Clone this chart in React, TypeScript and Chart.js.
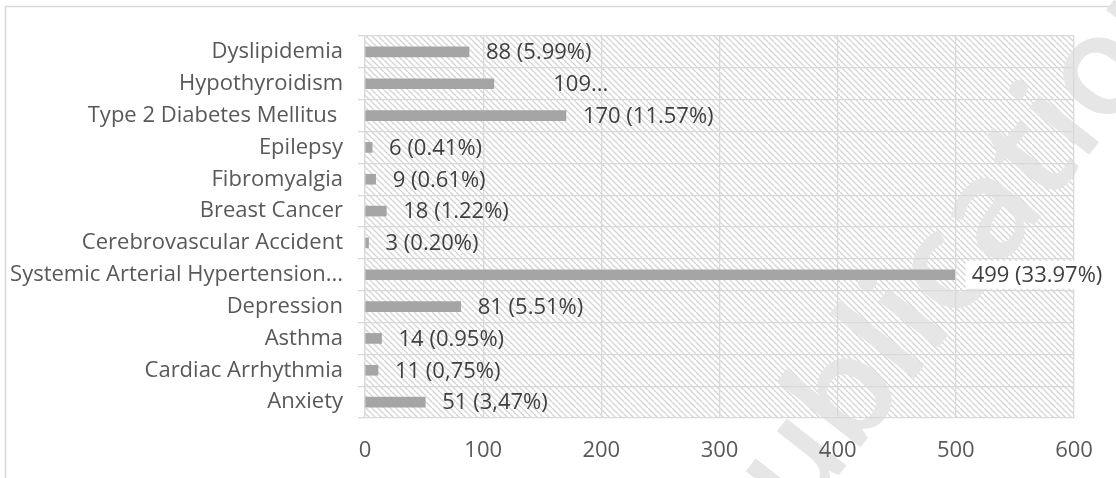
import React, { useEffect, useRef } from 'react';
import { Chart, registerables } from 'chart.js';

Chart.register(...registerables);

const categories = [
  'Dyslipidemia',
  'Hypothyroidism',
  'Type 2 Diabetes Mellitus ',
  'Epilepsy',
  'Fibromyalgia',
  'Breast Cancer',
  'Cerebrovascular Accident',
  'Systemic Arterial Hypertension...',
  'Depression',
  'Asthma',
  'Cardiac Arrhythmia',
  'Anxiety',
];

const counts = [88, 109, 170, 6, 9, 18, 3, 499, 81, 14, 11, 51];

const valueLabels = [
  '88 (5.99%)',
  '109...',
  '170 (11.57%)',
  '6 (0.41%)',
  '9 (0.61%)',
  '18 (1.22%)',
  '3 (0.20%)',
  '499 (33.97%)',
  '81 (5.51%)',
  '14 (0.95%)',
  '11 (0,75%)',
  '51 (3,47%)',
];

const xMin = 0;
const xMax = 600;
const xStep = 100;

const watermarkText = 'publication';

const FONT = '"Open Sans", "DejaVu Sans", sans-serif';

export default function App() {
  const ref = useRef<HTMLCanvasElement>(null);

  useEffect(() => {
    document.body.style.margin = '0';
    const canvas = ref.current;
    if (!canvas) return;

    const pc = document.createElement('canvas');
    pc.width = 6;
    pc.height = 6;
    const p = pc.getContext('2d')!;
    p.strokeStyle = '#d4d4d4';
    p.lineWidth = 1.3;
    for (const k of [-6, 0, 6]) {
      p.beginPath();
      p.moveTo(k, 0);
      p.lineTo(k + 6, 6);
      p.stroke();
    }

    const bgPlugin = {
      id: 'bgPlugin',
      beforeDraw(chart: any) {
        const { ctx, chartArea: a } = chart;
        ctx.save();
        ctx.fillStyle = '#ffffff';
        ctx.fillRect(0, 0, chart.width, chart.height);
        ctx.strokeStyle = '#d9d9d9';
        ctx.lineWidth = 1.5;
        ctx.strokeRect(5.5, 6.5, chart.width + 40, chart.height + 40);
        const pat = ctx.createPattern(pc, 'repeat');
        if (pat) {
          ctx.fillStyle = pat;
          ctx.fillRect(a.left, a.top, a.right - a.left, a.bottom - a.top);
        }
        ctx.translate(745, 595);
        ctx.rotate((-52 * Math.PI) / 180);
        ctx.font = `600 140px ${FONT}`;
        ctx.fillStyle = '#e6e6e6';
        ctx.textAlign = 'left';
        ctx.textBaseline = 'alphabetic';
        ctx.fillText(watermarkText, 0, 0);
        ctx.restore();
      },
    };

    const labelPlugin = {
      id: 'labelPlugin',
      afterDatasetsDraw(chart: any) {
        const { ctx } = chart;
        const meta = chart.getDatasetMeta(0);
        ctx.save();
        ctx.font = `22px ${FONT}`;
        ctx.textAlign = 'center';
        ctx.textBaseline = 'middle';
        meta.data.forEach((bar: any, i: number) => {
          const t = valueLabels[i];
          const w = t.endsWith('...') ? 140 : ctx.measureText(t).width;
          const cx = bar.x + 17 + w / 2;
          if (cx + w / 2 > chart.chartArea.right) {
            ctx.fillStyle = '#ffffff';
            ctx.fillRect(cx - w / 2 - 6, bar.y - 14, w + 12, 28);
          }
          ctx.fillStyle = '#404040';
          ctx.fillText(t, cx, bar.y + 1);
        });
        ctx.restore();
      },
    };

    const chart = new Chart(canvas, {
      type: 'bar',
      data: {
        labels: categories,
        datasets: [
          {
            data: counts,
            backgroundColor: '#a5a5a5',
            barThickness: 10,
          },
        ],
      },
      options: {
        indexAxis: 'y',
        responsive: false,
        animation: false,
        devicePixelRatio: 1,
        layout: { padding: { top: 36, right: 42, bottom: 0, left: 0 } },
        plugins: {
          legend: { display: false },
          tooltip: { enabled: false },
        },
        scales: {
          x: {
            min: xMin,
            max: xMax,
            ticks: {
              stepSize: xStep,
              color: '#595959',
              font: { family: FONT, size: 22 },
              padding: 20,
            },
            grid: { color: '#d9d9d9', lineWidth: 1.3, drawTicks: false },
            border: { display: false },
            afterFit(s: any) {
              s.height = 60;
            },
          },
          y: {
            ticks: {
              color: '#595959',
              font: { family: FONT, size: 22 },
              padding: 15,
              autoSkip: false,
            },
            grid: { color: '#d9d9d9', lineWidth: 1.3, offset: true, tickLength: 7 },
            border: { color: '#d9d9d9', width: 1.3 },
            afterFit(s: any) {
              s.width = 365;
            },
          },
        },
      },
      plugins: [bgPlugin, labelPlugin],
    } as any);

    return () => chart.destroy();
  }, []);

  return (
    <div style={{ width: 1116, height: 478, position: 'relative' }}>
      <canvas ref={ref} width={1116} height={478} />
    </div>
  );
}
